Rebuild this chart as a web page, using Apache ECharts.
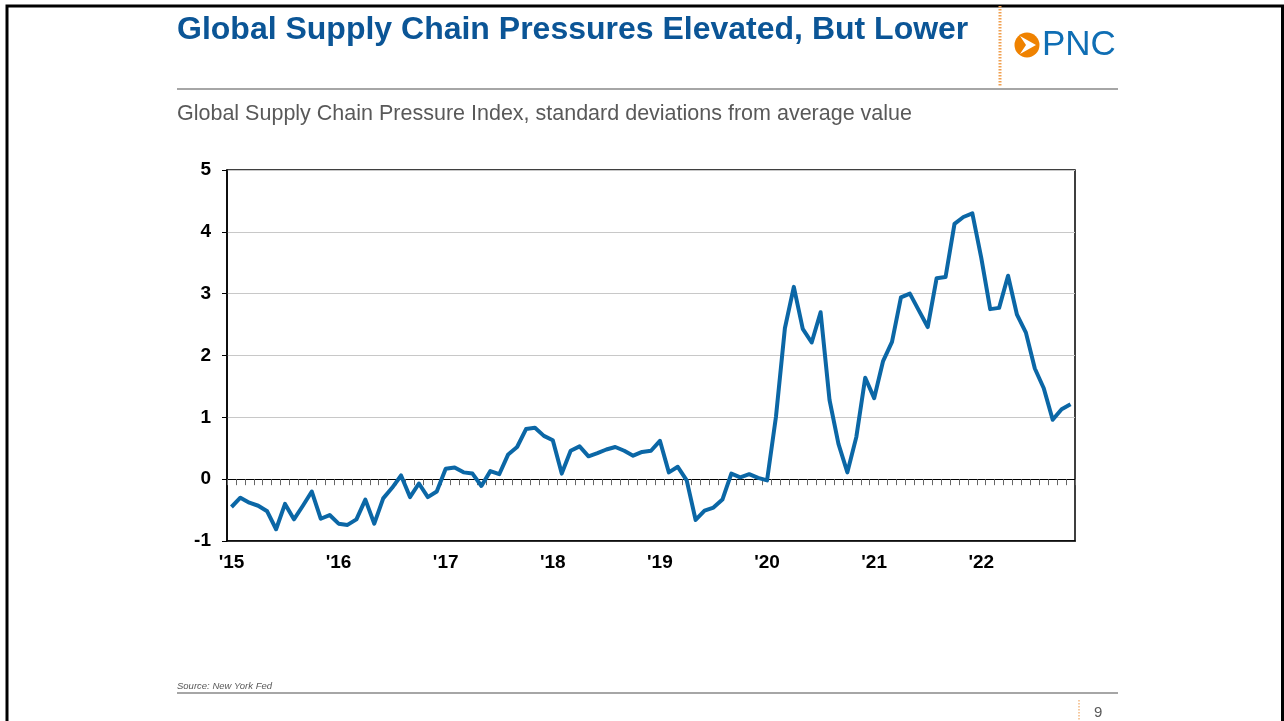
<!DOCTYPE html>
<html>
<head>
<meta charset="utf-8">
<title>Global Supply Chain Pressures</title>
<script src="https://cdn.jsdelivr.net/npm/echarts@6.0.0/dist/echarts.min.js"></script>
<style>
  html, body { margin: 0; padding: 0; background: #fff; }
  #chart-container { width: 1284px; height: 721px; }
</style>
</head>
<body>
<div id="chart-container"></div>
<script>
// monthly readings, Jan 2015 .. Nov 2022
const years = ['2015', '2016', '2017', '2018', '2019', '2020', '2021', '2022'];
const yearLabels = ["'15", "'16", "'17", "'18", "'19", "'20", "'21", "'22"];
const gscpi = [
  -0.45, -0.30, -0.38, -0.43, -0.52, -0.81, -0.40, -0.65, -0.43, -0.20, -0.64, -0.58,
  -0.72, -0.74, -0.65, -0.33, -0.72, -0.31, -0.14, 0.06, -0.29, -0.07, -0.29, -0.20,
  0.17, 0.19, 0.11, 0.09, -0.11, 0.13, 0.08, 0.40, 0.52, 0.81, 0.83, 0.70,
  0.63, 0.09, 0.46, 0.53, 0.37, 0.42, 0.48, 0.52, 0.46, 0.38, 0.44, 0.46,
  0.62, 0.11, 0.20, -0.02, -0.66, -0.51, -0.46, -0.33, 0.09, 0.03, 0.08, 0.02,
  -0.02, 1.01, 2.44, 3.11, 2.43, 2.21, 2.70, 1.28, 0.57, 0.11, 0.68, 1.64,
  1.31, 1.91, 2.22, 2.94, 3.00, 2.73, 2.46, 3.25, 3.27, 4.13, 4.24, 4.30,
  3.58, 2.75, 2.77, 3.29, 2.66, 2.37, 1.79, 1.47, 0.96, 1.13, 1.21
];

const months = [];
years.forEach(y => {
  for (let m = 1; m <= 12; m++) months.push(y + '-' + String(m).padStart(2, '0'));
});
months.length = gscpi.length;

const chart = echarts.init(document.getElementById('chart-container'));

const axisFont = { fontFamily: 'Liberation Sans, Arial, sans-serif', fontWeight: 'bold', fontSize: 19, color: '#000' };

const option = {
  animation: false,
  backgroundColor: '#fff',
  grid: {
    left: 227, right: 209, top: 170, bottom: 180,
    show: true, borderColor: '#000', borderWidth: 1.5, backgroundColor: 'transparent'
  },
  xAxis: [
    {
      type: 'category',
      data: months,
      position: 'bottom',
      boundaryGap: true,
      axisLine: { onZero: false, lineStyle: { color: '#000', width: 1.5 } },
      axisTick: { show: false },
      splitLine: { show: false },
      axisLabel: {
        ...axisFont,
        margin: 12,
        interval: idx => idx % 12 === 0,
        formatter: (v, idx) => yearLabels[Math.floor(idx / 12)]
      }
    },
    {
      // zero line with monthly ticks
      type: 'category',
      data: months,
      position: 'bottom',
      boundaryGap: true,
      axisLine: { onZero: true, lineStyle: { color: '#000', width: 1 } },
      axisTick: { show: true, interval: 0, length: 6, lineStyle: { color: '#666', width: 1 } },
      axisLabel: { show: false },
      splitLine: { show: false }
    }
  ],
  yAxis: {
    type: 'value',
    min: -1, max: 5, interval: 1,
    axisLine: { show: true, lineStyle: { color: '#000', width: 1.5 } },
    axisTick: { show: true, length: 5, lineStyle: { color: '#000' } },
    splitLine: { show: true, lineStyle: { color: '#c8c8c8', width: 1 } },
    axisLabel: { ...axisFont, margin: 16 }
  },
  series: [
    {
      name: 'GSCPI',
      type: 'line',
      xAxisIndex: 0,
      data: gscpi,
      showSymbol: false,
      lineStyle: { color: '#0b67a6', width: 4, join: 'round' },
      z: 5
    }
  ],
  graphic: [
    // slide frame
    { type: 'rect', shape: { x: 7, y: 6, width: 1275.5, height: 760 }, style: { fill: 'none', stroke: '#000', lineWidth: 3 }, silent: true },
    {
      type: 'text', left: 177, top: 14,
      style: { text: 'Global Supply Chain Pressures Elevated, But Lower', fill: '#0b5596',
        font: 'bold 32px "Liberation Sans", Arial, sans-serif' }
    },
    { type: 'line', shape: { x1: 1000, y1: 6, x2: 1000, y2: 87 }, style: { stroke: '#f0a050', lineWidth: 3, lineDash: [1.5, 1.5] } },
    { type: 'circle', shape: { cx: 1027, cy: 45, r: 12.5 }, style: { fill: '#ef8200' } },
    { type: 'polygon', shape: { points: [[1020, 36], [1036, 45], [1020, 54], [1026, 45]] }, style: { fill: '#fff' } },
    {
      type: 'text', left: 1042, top: 28,
      style: { text: 'PNC', fill: '#0f6eb4', font: '35px "Liberation Sans", Arial, sans-serif' }
    },
    { type: 'line', shape: { x1: 177, y1: 89, x2: 1118, y2: 89 }, style: { stroke: '#a6a6a6', lineWidth: 2 } },
    {
      type: 'text', left: 177, top: 103,
      style: { text: 'Global Supply Chain Pressure Index, standard deviations from average value', fill: '#595959',
        font: '21.5px "Liberation Sans", Arial, sans-serif' }
    },
    {
      type: 'text', left: 177, top: 681,
      style: { text: 'Source: New York Fed', fill: '#595959', font: 'italic 9.5px "Liberation Sans", Arial, sans-serif' }
    },
    { type: 'line', shape: { x1: 177, y1: 693, x2: 1118, y2: 693 }, style: { stroke: '#a6a6a6', lineWidth: 2 } },
    { type: 'line', shape: { x1: 1079, y1: 700, x2: 1079, y2: 721 }, style: { stroke: '#f6c9a0', lineWidth: 2, lineDash: [1.5, 1.5] } },
    {
      type: 'text', left: 1094, top: 705,
      style: { text: '9', fill: '#595959', font: '15px "Liberation Sans", Arial, sans-serif' }
    }
  ]
};

chart.setOption(option);
</script>
</body>
</html>
